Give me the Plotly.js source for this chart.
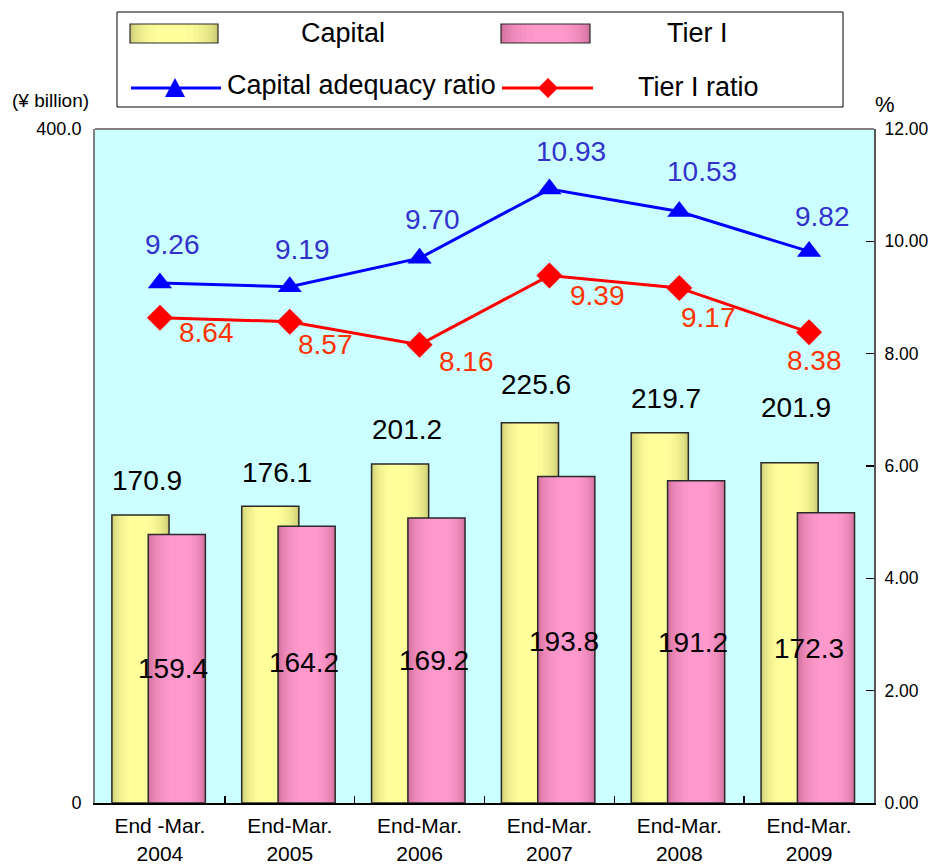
<!DOCTYPE html>
<html>
<head>
<meta charset="utf-8">
<script src="https://cdn.plot.ly/plotly-3.0.1.min.js"></script>
<style>
  html, body { margin: 0; padding: 0; background: #ffffff; }
  #chart { width: 933px; height: 868px; }
</style>
</head>
<body>
<div id="chart"></div>
<script>
// ---- data ----
const periods = ['End -Mar.<br>2004', 'End-Mar.<br>2005', 'End-Mar.<br>2006',
                 'End-Mar.<br>2007', 'End-Mar.<br>2008', 'End-Mar.<br>2009'];
const capital = [170.9, 176.1, 201.2, 225.6, 219.7, 201.9];        // ¥ billion
const tierOne = [159.4, 164.2, 169.2, 193.8, 191.2, 172.3];        // ¥ billion
const adequacyRatio = [9.26, 9.19, 9.70, 10.93, 10.53, 9.82];      // %
const tierOneRatio = [8.64, 8.57, 8.16, 9.39, 9.17, 8.38];         // %
const leftTicks = [0, 400];
const leftTickText = ['0', '400.0'];

// ---- figure geometry (pixels) ----
const FIG_W = 933, FIG_H = 868;
const M = { l: 95, r: 59, t: 129, b: 65 };
const PW = FIG_W - M.l - M.r, PH = FIG_H - M.t - M.b;
const px = x => (x - M.l) / PW;                 // pixel x -> paper x
const py = y => (FIG_H - M.b - y) / PH;         // pixel y -> paper y

const FONT = 'Liberation Sans, Arial, sans-serif';

// ---- cylinder-style shading helpers ----
function mix(a, b, f) {
  const c = a.map((v, i) => Math.round(v + (b[i] - v) * f));
  return 'rgb(' + c.join(',') + ')';
}
// nested bands: widest = edge colour, narrowest = highlight colour
function bands(n, peak, edge, light) {
  const out = [];
  for (let k = 0; k < n; k++) {
    const a = Math.sqrt(1 - Math.pow(k / n, 2));
    out.push({ lo: peak - a * peak, span: a, color: mix(edge, light, k / (n - 1)) });
  }
  return out;
}
const CAP_SHADE = bands(16, 0.45, [190, 190, 106], [255, 255, 156]);
const T1_SHADE  = bands(16, 0.55, [196, 102, 146], [255, 153, 204]);

const CAP_W = 0.44, CAP_OFF = -0.37;
const T1_W = 0.44, T1_OFF = -0.09;

function shadedBars(values, shade, width, offset) {
  const traces = shade.map(s => ({
    type: 'bar', x: periods, y: values,
    width: width * s.span, offset: offset + width * s.lo,
    marker: { color: s.color, line: { width: 0 } },
    hoverinfo: 'skip', showlegend: false
  }));
  traces.push({
    type: 'bar', x: periods, y: values, width: width, offset: offset,
    marker: { color: 'rgba(0,0,0,0)', line: { color: '#2a2a2a', width: 1.5 } },
    hoverinfo: 'skip', showlegend: false
  });
  return traces;
}

const traces = [
  ...shadedBars(capital, CAP_SHADE, CAP_W, CAP_OFF),
  ...shadedBars(tierOne, T1_SHADE, T1_W, T1_OFF),
  {
    type: 'scatter', mode: 'lines+markers', x: periods, y: adequacyRatio, yaxis: 'y2',
    line: { color: '#0000ff', width: 3 },
    marker: { symbol: 'triangle-up', size: 21, color: '#0000ff' },
    hoverinfo: 'skip', showlegend: false, cliponaxis: false
  },
  {
    type: 'scatter', mode: 'lines+markers', x: periods, y: tierOneRatio, yaxis: 'y2',
    line: { color: '#ff0000', width: 3 },
    marker: { symbol: 'diamond', size: 20, color: '#ff0000' },
    hoverinfo: 'skip', showlegend: false, cliponaxis: false
  }
];

// ---- value labels ----
const capLabelShift = [[-13, 35], [-13, 34], [-13, 34], [-13, 38], [-13, 34], [-13, 55]];
const t1LabelShift  = [[13, 0], [14, 2], [14, 0], [15, -2], [14, -1], [0, 9]];
const carLabelShift = [[13, 38], [13, 37], [13, 39], [22, 38], [23, 40], [13, 35]];
const t1rLabelShift = [[47, -15], [36, -23], [47, -17], [48, -20], [29, -30], [5, -28]];

const annotations = [];
function label(xref, yref, x, y, text, shift, size, color) {
  annotations.push({
    xref: xref, yref: yref, x: x, y: y, text: text, showarrow: false,
    xanchor: 'center', yanchor: 'middle',
    xshift: shift ? shift[0] : 0, yshift: shift ? shift[1] : 0,
    font: { family: FONT, size: size, color: color }
  });
}
capital.forEach((v, i) => label('x', 'y', i, v, v.toFixed(1), capLabelShift[i], 28, '#000000'));
tierOne.forEach((v, i) => label('x', 'y', i, v / 2, v.toFixed(1), t1LabelShift[i], 28, '#000000'));
adequacyRatio.forEach((v, i) => label('x', 'y2', i, v, v.toFixed(2), carLabelShift[i], 28, '#3333cc'));
tierOneRatio.forEach((v, i) => label('x', 'y2', i, v, v.toFixed(2), t1rLabelShift[i], 28, '#ff3300'));

// axis unit captions
label('paper', 'paper', px(50), py(100), '(¥ billion)', null, 19, '#000');
label('paper', 'paper', px(885), py(104), '%', null, 22, '#000');

// ---- legend (drawn as shapes + text) ----
const shapes = [];
shapes.push({
  type: 'rect', xref: 'paper', yref: 'paper',
  x0: px(117), x1: px(843), y0: py(107), y1: py(12),
  line: { color: '#000000', width: 1 }, fillcolor: '#ffffff', layer: 'below'
});
function legendSwatch(x0, x1, y0, y1, shade) {
  const w = x1 - x0;
  shade.forEach(s => shapes.push({
    type: 'rect', xref: 'paper', yref: 'paper',
    x0: px(x0 + w * s.lo), x1: px(x0 + w * (s.lo + s.span)), y0: py(y1), y1: py(y0),
    line: { width: 0 }, fillcolor: s.color
  }));
  shapes.push({
    type: 'rect', xref: 'paper', yref: 'paper',
    x0: px(x0), x1: px(x1), y0: py(y1), y1: py(y0),
    line: { color: '#2a2a2a', width: 1.2 }, fillcolor: 'rgba(0,0,0,0)'
  });
}
legendSwatch(130, 218, 24, 43, CAP_SHADE);
legendSwatch(501, 590, 24, 43, T1_SHADE);

function legendLine(x0, x1, y, color) {
  shapes.push({
    type: 'line', xref: 'paper', yref: 'paper',
    x0: px(x0), x1: px(x1), y0: py(y), y1: py(y),
    line: { color: color, width: 3 }
  });
}
function pathFrom(points) {
  return 'M' + points.map(p => px(p[0]) + ',' + py(p[1])).join('L') + 'Z';
}
legendLine(131, 221, 88, '#0000ff');
shapes.push({
  type: 'path', xref: 'paper', yref: 'paper',
  path: pathFrom([[165, 97], [185, 97], [175, 78]]),
  fillcolor: '#0000ff', line: { width: 0 }
});
legendLine(502, 593, 88, '#ff0000');
shapes.push({
  type: 'path', xref: 'paper', yref: 'paper',
  path: pathFrom([[548, 78], [558, 88], [548, 98], [538, 88]]),
  fillcolor: '#ff0000', line: { width: 0 }
});

[['Capital', 343, 33], ['Tier I', 697, 33],
 ['Capital adequacy ratio', 361, 85], ['Tier I ratio', 698, 87]]
  .forEach(t => label('paper', 'paper', px(t[1]), py(t[2]), t[0], null, 27, '#000'));

// plot frame: grey top edge
shapes.push({
  type: 'line', xref: 'paper', yref: 'paper', x0: 0, x1: 1, y0: 1, y1: 1,
  line: { color: '#808080', width: 2 }
});

const layout = {
  width: FIG_W, height: FIG_H,
  margin: M,
  paper_bgcolor: '#ffffff',
  plot_bgcolor: '#ccffff',
  barmode: 'overlay',
  showlegend: false,
  font: { family: FONT, color: '#000000' },
  xaxis: {
    type: 'category', range: [-0.5, 5.5],
    showline: true, linecolor: '#000000', linewidth: 2,
    ticks: 'inside', tickson: 'boundaries', ticklen: 7, tickwidth: 1.5, tickcolor: '#000000',
    tickfont: { family: FONT, size: 21, color: '#000' }, ticklabelstandoff: 3,
    showgrid: false, zeroline: false, fixedrange: true
  },
  yaxis: {
    range: [0, 400], tickvals: leftTicks, ticktext: leftTickText,
    ticks: '', showline: true, linecolor: '#808080', linewidth: 2,
    tickfont: { family: FONT, size: 18, color: '#000' }, ticklabelstandoff: 8,
    showgrid: false, zeroline: false, fixedrange: true
  },
  yaxis2: {
    overlaying: 'y', side: 'right', range: [0, 12], dtick: 2, tickformat: '.2f',
    ticks: 'inside', ticklen: 8, tickwidth: 1.5, tickcolor: '#000000',
    showline: true, linecolor: '#555555', linewidth: 2,
    tickfont: { family: FONT, size: 17.5, color: '#000' }, ticklabelstandoff: 5,
    showgrid: false, zeroline: false, fixedrange: true
  },
  annotations: annotations,
  shapes: shapes
};

Plotly.newPlot('chart', traces, layout, { displayModeBar: false, staticPlot: true });
</script>
</body>
</html>
